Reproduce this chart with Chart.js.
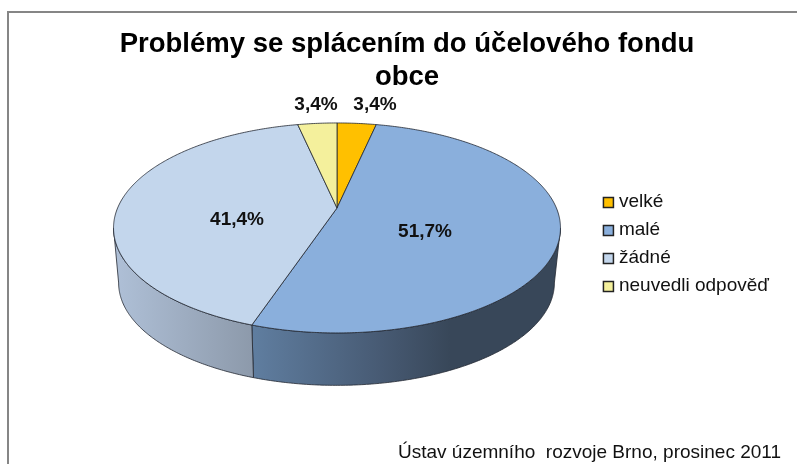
<!DOCTYPE html>
<html>
<head>
    <title>Problémy se splácením</title>
    <script src="https://cdn.jsdelivr.net/npm/chart.js"></script>
    <style>
        html, body { margin: 0; padding: 0; background: #fff; overflow: hidden; width: 797px; height: 464px; }
        .frame { position: absolute; left: 7px; top: 11px; width: 810px; height: 470px; border: 2px solid #868686; box-sizing: border-box; }
        .chart-container { position: absolute; left: 0; top: 0; width: 814px; height: 464px; }
        .source { position: absolute; left: 398px; top: 441px; font: 19px "Liberation Sans", Arial, sans-serif; white-space: pre; color: #111; }
    </style>
</head>
<body>
    <div class="frame"></div>
    <div class="chart-container"><canvas id="pieChart"></canvas></div>
    <div class="source">Ústav územního  rozvoje Brno, prosinec 2011</div>

    <script>
var categories = ['velké', 'malé', 'žádné', 'neuvedli odpověď'];
var percentValues = [3.4, 51.7, 41.4, 3.4];
var valueLabels = ['3,4%', '51,7%', '41,4%', '3,4%'];
var titleLines = ['Problémy se splácením do účelového fondu', 'obce'];

var sliceColors = ['#FFC000', '#8AAFDC', '#C3D6EC', '#F4F09C'];
var edgeColor = 'rgba(35, 40, 50, 0.8)';
var labelPositions = [[375, 104.5], [425, 232], [237, 220], [316, 104.5]];

// perspective of the disc: top face and the smaller bottom face
var topFace = { x: 337, y: 208, a: 219.4, b: 101.2 };
var bottomFace = { x: 336.5, y: 263.5, a: 213.9, b: 98.7 };
var tilt = 0.19;

// a = clockwise angle from the top of the disc
function project(face, a, r) {
    var u = Math.sin(a) * r, v = -Math.cos(a) * r;
    var w = 1 - tilt * v;
    return [face.x + face.a * u / w, face.y + face.b * v / w];
}

function traceArc(ctx, face, from, to, first) {
    var steps = Math.max(2, Math.ceil(Math.abs(to - from) / 0.01));
    for (var i = 0; i <= steps; i++) {
        var p = project(face, from + (to - from) * i / steps, 1);
        if (i === 0 && first) ctx.moveTo(p[0], p[1]);
        else ctx.lineTo(p[0], p[1]);
    }
}

function drawWall(ctx, from, to, gradient) {
    ctx.beginPath();
    traceArc(ctx, topFace, from, to, true);
    traceArc(ctx, bottomFace, to, from, false);
    ctx.closePath();
    ctx.fillStyle = gradient;
    ctx.fill();
    ctx.strokeStyle = edgeColor;
    ctx.lineWidth = 1;
    ctx.stroke();
}

var perspectivePie = {
    id: 'perspectivePie',
    // slice angles come from the pie elements that Chart.js worked out
    beforeDatasetsDraw: function(chart) {
        var ctx = chart.ctx;
        var arcs = chart.getDatasetMeta(0).data;
        var quarter = Math.PI / 2;
        var angles = arcs.map(function(arc) {
            return [arc.startAngle + quarter, arc.endAngle + quarter];
        });

        // widest points of the disc, where the wall starts and ends
        var wallRight = Math.acos(-tilt);
        var wallLeft = 2 * Math.PI - wallRight;

        ctx.save();
        var darkWall = ctx.createLinearGradient(255, 0, 450, 0);
        darkWall.addColorStop(0, '#5F7D9F');
        darkWall.addColorStop(0.65, '#475A73');
        darkWall.addColorStop(1, '#384759');
        drawWall(ctx, wallRight, angles[1][1], darkWall);

        var lightWall = ctx.createLinearGradient(118, 0, 255, 0);
        lightWall.addColorStop(0, '#AEBFD6');
        lightWall.addColorStop(1, '#8C99AA');
        drawWall(ctx, angles[2][0], wallLeft, lightWall);

        angles.forEach(function(a, i) {
            ctx.beginPath();
            ctx.moveTo(topFace.x, topFace.y);
            traceArc(ctx, topFace, a[0], a[1], false);
            ctx.closePath();
            ctx.fillStyle = sliceColors[i];
            ctx.fill();
            ctx.strokeStyle = edgeColor;
            ctx.lineWidth = 1;
            ctx.stroke();
        });

        ctx.font = 'bold 19px "Liberation Sans", Arial, sans-serif';
        ctx.fillStyle = '#111';
        ctx.textAlign = 'center';
        ctx.textBaseline = 'middle';
        valueLabels.forEach(function(text, i) {
            ctx.fillText(text, labelPositions[i][0], labelPositions[i][1]);
        });
        ctx.restore();
        return false;
    },
    // legend squares are a bit wider than the gap Chart.js leaves before the text
    afterDraw: function(chart) {
        var ctx = chart.ctx;
        ctx.save();
        chart.legend.legendHitBoxes.forEach(function(box, i) {
            var y = Math.round(box.top + box.height / 2 - 5) + 0.5;
            ctx.fillStyle = sliceColors[i];
            ctx.strokeStyle = '#222';
            ctx.lineWidth = 1.5;
            ctx.fillRect(box.left + 0.5, y, 10, 10);
            ctx.strokeRect(box.left + 0.5, y, 10, 10);
        });
        ctx.restore();
    }
};

var pieChart = new Chart(document.getElementById('pieChart'), {
    type: 'pie',
    data: {
        labels: categories,
        datasets: [{ data: percentValues, backgroundColor: sliceColors }]
    },
    options: {
        responsive: true,
        maintainAspectRatio: false,
        animation: false,
        layout: { padding: { top: 28, right: 35, bottom: 4, left: 35 } },
        plugins: {
            tooltip: { enabled: false },
            title: {
                display: true,
                text: titleLines,
                color: '#000',
                font: { family: '"Liberation Sans", Arial, sans-serif', size: 27.5, weight: 'bold', lineHeight: 1.2 },
                padding: { top: 0, bottom: 0 }
            },
            legend: {
                position: 'right',
                labels: {
                    boxWidth: 6.5,
                    boxHeight: 6.5,
                    padding: 9,
                    color: '#111',
                    font: { family: '"Liberation Sans", Arial, sans-serif', size: 19 }
                }
            }
        }
    },
    plugins: [perspectivePie]
});
    </script>
</body>
</html>
